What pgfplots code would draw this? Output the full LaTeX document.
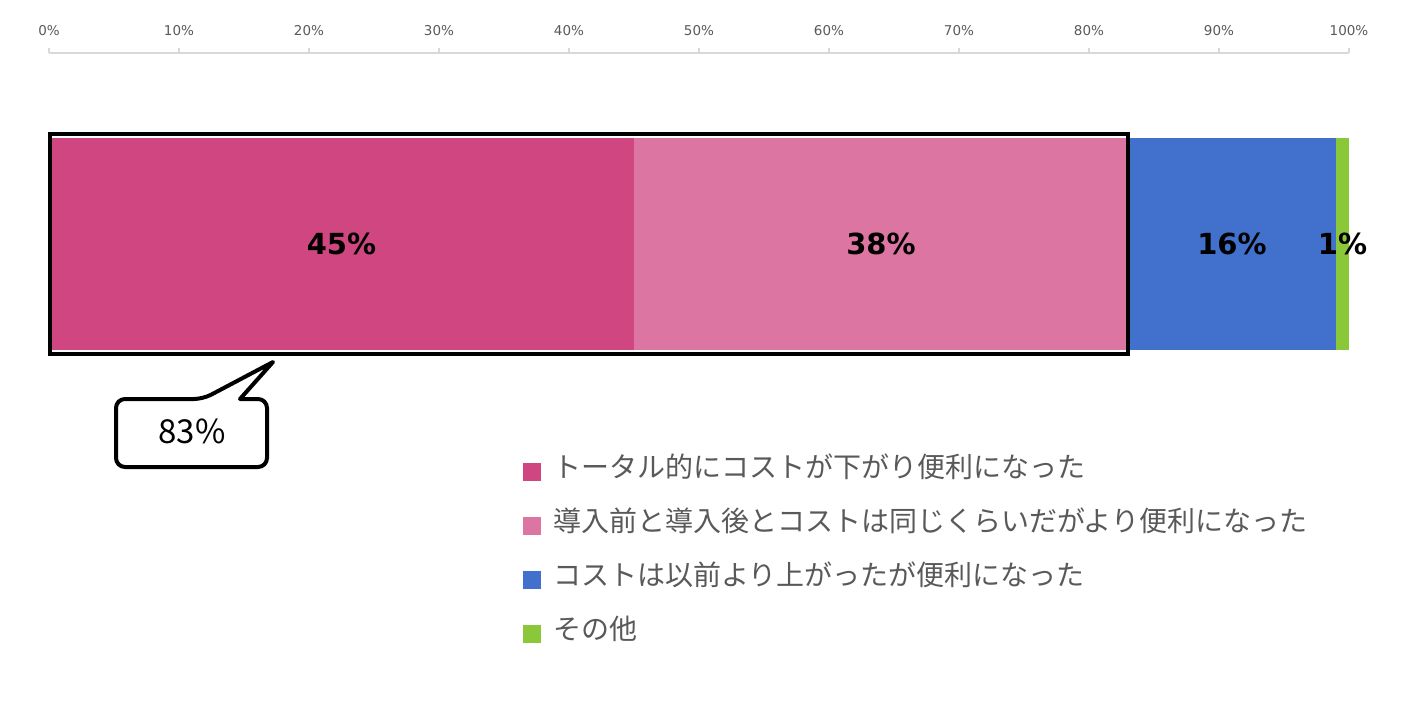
\documentclass[border=0pt]{standalone}
\usepackage{fontspec}
\setmainfont{DejaVu Sans}
\newfontfamily\jp{Noto Sans CJK JP}
\usepackage{pgfplots}
\pgfplotsset{compat=1.18}

\definecolor{darkpink}{HTML}{CF4680}
\definecolor{lightpink}{HTML}{DC75A2}
\definecolor{barblue}{HTML}{4170CD}
\definecolor{bargreen}{HTML}{8AC83A}
\definecolor{txtgray}{HTML}{595959}
\definecolor{linegray}{HTML}{D9D9D9}

\begin{document}
\begin{tikzpicture}[x=1pt,y=1pt]
\useasboundingbox (0,0) rectangle (1417,-725);

% stacked bar with the top axis and the legend
\begin{axis}[
    at={(49pt,-53pt)}, anchor=north west,
    scale only axis, width=1300pt, height=382pt,
    xmin=0, xmax=100, ymin=-1, ymax=1,
    xbar stacked, bar width=212pt,
    axis x line=top, axis y line=none,
    x axis line style={-, draw=linegray, line width=1.5pt},
    xtick={0,10,...,100}, ytick=\empty,
    tick align=outside, major tick length=5pt,
    xtick style={draw=linegray, line width=1.5pt},
    xticklabel={\pgfmathprintnumber[assume math mode=true]{\tick}\%},
    xticklabel style={font=\fontsize{13.5}{16}\selectfont, text=txtgray, yshift=9pt},
    clip=false,
    legend cell align=left,
    legend image code/.code={
        \fill[#1] (0pt,-10pt) rectangle (18pt,8pt);
    },
    legend style={
        at={(rel axis cs:0.3646,-0.0565)}, anchor=north west,
        draw=none, fill=none, inner sep=0pt, row sep=26pt,
        font=\jp\fontsize{28}{32}\selectfont, text=txtgray,
        nodes={inner sep=0pt, text height=21pt, text depth=7pt},
        /tikz/every odd column/.append style={column sep=12pt},
    },
]
\addplot[fill=darkpink, draw=none] coordinates {(45,0)};
\addlegendentry{トータル的にコストが下がり便利になった}
\addplot[fill=lightpink, draw=none] coordinates {(38,0)};
\addlegendentry{導入前と導入後とコストは同じくらいだがより便利になった}
\addplot[fill=barblue, draw=none] coordinates {(16,0)};
\addlegendentry{コストは以前より上がったが便利になった}
\addplot[fill=bargreen, draw=none] coordinates {(1,0)};
\addlegendentry{その他}
\end{axis}

% value labels and the frame round the first two segments
\begin{axis}[
    at={(49pt,-53pt)}, anchor=north west,
    scale only axis, width=1300pt, height=382pt,
    xmin=0, xmax=100, ymin=-1, ymax=1,
    hide axis, clip=false,
]
\addplot[draw=black, line width=4pt, line join=miter] coordinates {
    (0.1,0.577) (83,0.577) (83,-0.577) (0.1,-0.577)} -- cycle;
\addplot[only marks, mark=none, point meta=explicit,
    nodes near coords={\pgfmathprintnumber[assume math mode=true]{\pgfplotspointmeta}\%},
    every node near coord/.append style={anchor=center,
        font=\bfseries\fontsize{29}{32}\selectfont, text=black}]
    coordinates {(22.5,0) [45] (64,0) [38] (91,0) [16] (99.5,0) [1]};
\end{axis}

% callout
\draw[line width=4pt, fill=white, line join=round, rounded corners=9pt]
    (116,-430) -- (116,-399) -- (203,-399) [sharp corners] -- (273,-362)
    -- (240,-399) [rounded corners=9pt] -- (267,-399) -- (267,-467)
    -- (116,-467) -- cycle;
\node[font=\jp\fontsize{33}{36}\selectfont] at (192,-431) {83\%};
\end{tikzpicture}
\end{document}
